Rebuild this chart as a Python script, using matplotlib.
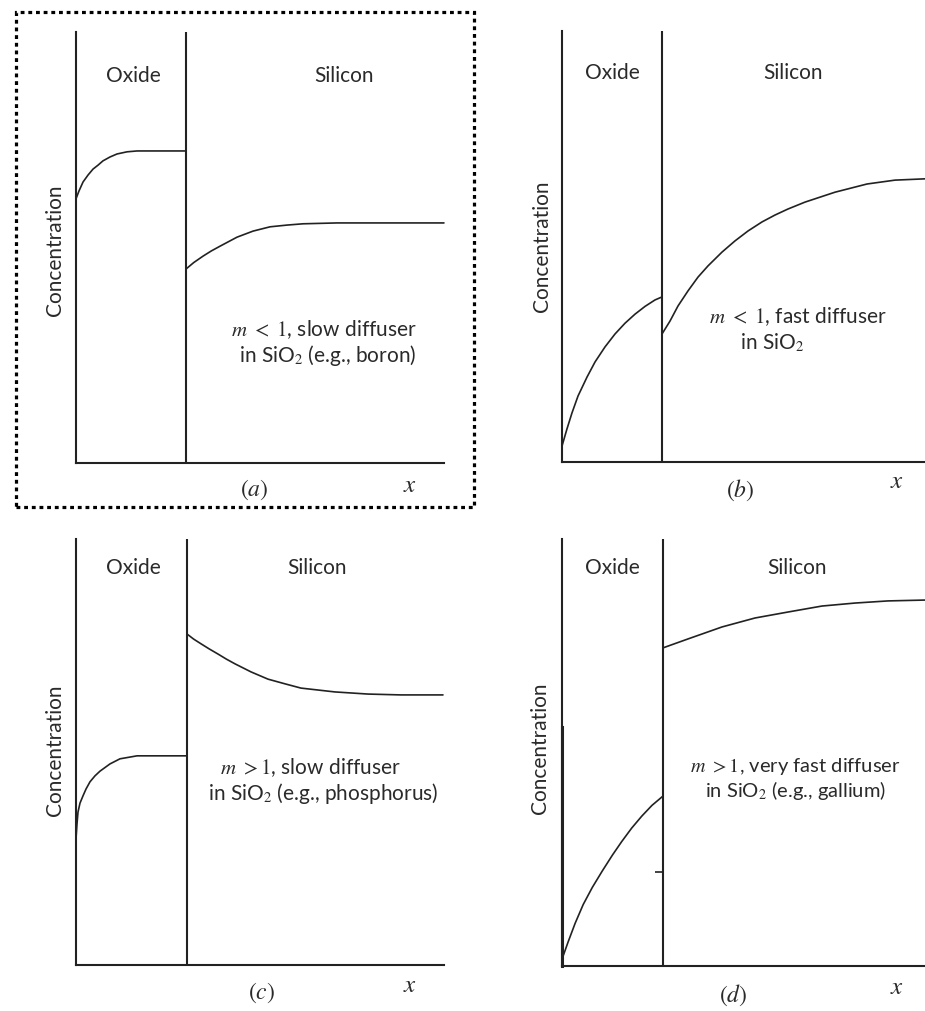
import matplotlib.pyplot as plt
from matplotlib.patches import Rectangle

# Canvas size in pixels (dpi 100)
W, H = 925, 1012

# Depth is in units of the oxide thickness (interface at 1.0),
# concentration in percent of the full vertical scale.

# (a) m < 1, slow diffuser in SiO2 (boron)
a_oxide_x = [0.0, 0.027, 0.064, 0.109, 0.155, 0.2, 0.245, 0.309, 0.373, 0.464, 0.555, 1.0]
a_oxide_c = [61.3, 63.1, 65.2, 66.8, 68.2, 69.1, 70.1, 71.0, 71.7, 72.2, 72.4, 72.4]
a_si_x = [1.0, 1.07, 1.155, 1.23, 1.309, 1.39, 1.464, 1.609, 1.764, 1.918, 2.064, 2.373, 3.345]
a_si_c = [45.0, 46.5, 48.0, 49.2, 50.3, 51.4, 52.4, 53.8, 54.8, 55.2, 55.5, 55.7, 55.7]

# (b) m < 1, fast diffuser in SiO2
b_oxide_x = [0.0, 0.05, 0.10, 0.16, 0.25, 0.33, 0.43, 0.53, 0.63, 0.73, 0.83, 0.93, 1.0]
b_oxide_c = [3.7, 7.7, 11.4, 15.3, 19.7, 23.2, 26.7, 29.7, 32.2, 34.3, 36.1, 37.6, 38.3]
b_si_x = [1.0, 1.08, 1.16, 1.26, 1.36, 1.46, 1.60, 1.73, 1.86, 2.00, 2.13, 2.26,
          2.43, 2.73, 3.05, 3.33, 3.63]
b_si_c = [29.7, 32.7, 36.2, 39.7, 42.9, 45.5, 48.7, 51.3, 53.6, 55.7, 57.3, 58.7,
          60.3, 62.6, 64.5, 65.4, 65.7]

# (c) m > 1, slow diffuser in SiO2 (phosphorus)
c_oxide_x = [0.0, 0.009, 0.018, 0.036, 0.063, 0.090, 0.126, 0.171, 0.216, 0.306, 0.396, 0.55, 1.0]
c_oxide_c = [29.6, 33.1, 35.9, 38.0, 39.7, 41.3, 43.0, 44.4, 45.5, 47.2, 48.4, 49.1, 49.1]
c_si_x = [1.0, 1.06, 1.126, 1.2, 1.279, 1.355, 1.432, 1.577, 1.730, 1.883, 2.027,
          2.333, 2.631, 2.928, 3.306]
c_si_c = [77.7, 76.5, 75.4, 74.2, 73.0, 71.8, 70.7, 68.8, 67.1, 66.0, 65.0,
          64.1, 63.6, 63.4, 63.4]

# (d) m > 1, very fast diffuser in SiO2 (gallium)
d_oxide_x = [0.0, 0.06, 0.13, 0.21, 0.30, 0.40, 0.50, 0.59, 0.69, 0.79, 0.89, 1.0]
d_oxide_c = [1.6, 5.6, 10.0, 14.4, 18.4, 22.3, 26.0, 29.1, 32.3, 35.1, 37.6, 39.8]
d_si_x = [1.0, 1.248, 1.584, 1.911, 2.238, 2.574, 2.901, 3.228, 3.594]
d_si_c = [74.5, 76.6, 79.4, 81.5, 82.9, 84.3, 85.0, 85.5, 85.7]
d_tick_c = 22.0

LINE = "#222222"
TEXT = "#2a2a2a"
FONT = "Lato"

plt.rcParams["mathtext.fontset"] = "stix"


def fx(px):
    return px / W


def fy(py):
    return 1 - py / H


def make_panel(fig, left, right, top, bottom, x_max):
    ax = fig.add_axes([fx(left), fy(bottom), fx(right - left), (bottom - top) / H])
    ax.set_xlim(0, x_max)
    ax.set_ylim(0, 100)
    for side in ["top", "right"]:
        ax.spines[side].set_visible(False)
    for side in ["left", "bottom"]:
        ax.spines[side].set_color(LINE)
        ax.spines[side].set_linewidth(1.5)
    ax.set_xticks([])
    ax.set_yticks([])
    ax.patch.set_alpha(0)
    # oxide / silicon interface
    ax.axvline(1.0, color=LINE, lw=1.5)
    return ax


def draw_profile(ax, ox_x, ox_c, si_x, si_c):
    kw = dict(color=LINE, lw=1.2, solid_capstyle="round", solid_joinstyle="round",
              clip_on=False)
    ax.plot(ox_x, ox_c, **kw)
    ax.plot(si_x, si_c, **kw)


def label(fig, x, y, s, size=15, **kw):
    fig.text(fx(x), fy(y), s, fontsize=size, color=TEXT, family=FONT,
             ha="center", va="center", **kw)


def create_figure(output_file):
    fig = plt.figure(figsize=(W / 100, H / 100), dpi=100)

    ax_a = make_panel(fig, 76, 444, 33, 464, 368 / 110)
    draw_profile(ax_a, a_oxide_x, a_oxide_c, a_si_x, a_si_c)

    ax_b = make_panel(fig, 562, 925, 32, 463, 3.63)
    draw_profile(ax_b, b_oxide_x, b_oxide_c, b_si_x, b_si_c)

    ax_c = make_panel(fig, 76, 444, 540, 966, 368 / 111)
    draw_profile(ax_c, c_oxide_x, c_oxide_c, c_si_x, c_si_c)

    ax_d = make_panel(fig, 562, 925, 540, 967, 3.594)
    draw_profile(ax_d, d_oxide_x, d_oxide_c, d_si_x, d_si_c)
    ax_d.hlines(d_tick_c, 0.92, 1.0, color=LINE, lw=1.2)
    # heavier lower stretch of the concentration axis
    ax_d.axvline(0, ymin=0, ymax=0.56, color=LINE, lw=2.2, clip_on=False)

    # region names and axis titles
    for ox, si, yy, cx, cy in [(133, 344, 76, 55, 250), (612, 793, 73, 542, 246),
                               (133, 317, 568, 55, 750), (612, 797, 568, 540, 748)]:
        label(fig, ox, yy, "Oxide")
        label(fig, si, yy, "Silicon")
        label(fig, cx, cy, "Concentration", rotation=90)

    # case descriptions
    label(fig, 324, 330, r"$m\ <\ 1$, slow diffuser")
    label(fig, 328, 356, r"in SiO$_2$ (e.g., boron)")
    label(fig, 798, 317, r"$m\ <\ 1$, fast diffuser")
    label(fig, 772, 343, r"in SiO$_2$")
    label(fig, 311, 768, r"$m\ >1$, slow diffuser")
    label(fig, 323, 793, r"in SiO$_2$ (e.g., phosphorus)")
    label(fig, 795, 767, r"$m\ >1$, very fast diffuser", size=14.5)
    label(fig, 796, 790, r"in SiO$_2$ (e.g., gallium)", size=14.5)

    # panel captions and depth axis labels
    for cap, cxp, cyp, xx, xy in [("a", 254, 490, 410, 484), ("b", 740, 490, 897, 481),
                                  ("c", 262, 993, 410, 985), ("d", 733, 995, 897, 987)]:
        label(fig, cxp, cyp, r"$(%s)$" % cap, size=17)
        label(fig, xx, xy, r"$x$", size=18)

    # dotted frame around panel (a)
    frame = Rectangle((fx(16), fy(508)), fx(474 - 16), (508 - 13) / H,
                      transform=fig.transFigure, fill=False, edgecolor="black",
                      lw=2.3, linestyle=(0, (1.2, 1.2)))
    frame.set_capstyle("butt")
    fig.patches.append(frame)

    fig.savefig(output_file, dpi=100, facecolor="white")


if __name__ == "__main__":
    create_figure("out.png")
